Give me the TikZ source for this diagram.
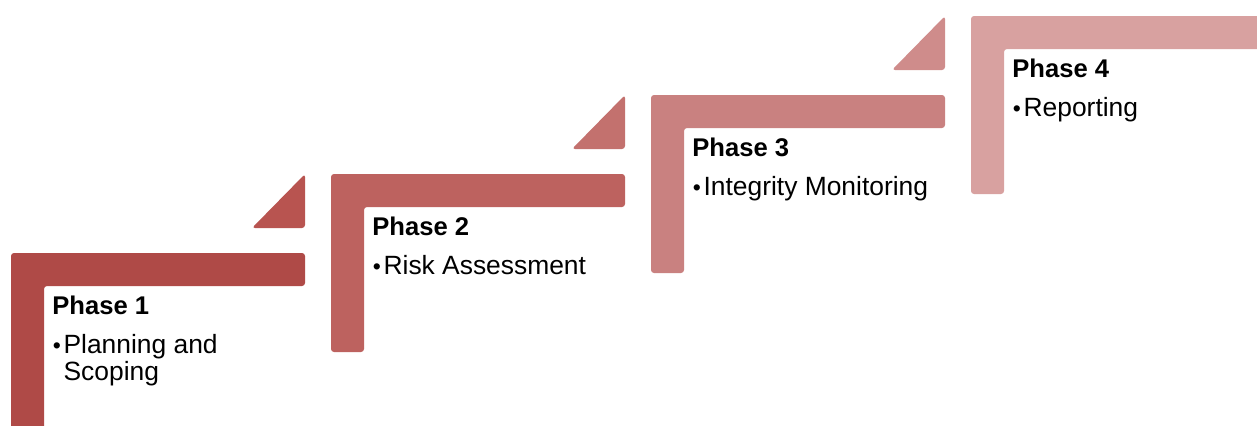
\documentclass[tikz,border=0pt]{standalone}
\usepackage{fontspec}
\setmainfont{Liberation Sans}
\usetikzlibrary{positioning}

\definecolor{phaseA}{RGB}{175,74,71}
\definecolor{phaseAtip}{RGB}{184,84,80}
\definecolor{phaseB}{RGB}{189,98,95}
\definecolor{phaseBtip}{RGB}{195,113,110}
\definecolor{phaseC}{RGB}{201,129,128}
\definecolor{phaseCtip}{RGB}{207,140,139}
\definecolor{phaseD}{RGB}{216,161,160}

\newcommand{\bul}{\makebox[5.6pt][l]{\hspace{0.2pt}\fontsize{11.5}{11.5}\selectfont\textbullet}}
\newcommand{\itemgap}{\hspace*{5.6pt}}

\begin{document}
\begin{tikzpicture}[x=0.5pt, y=0.5pt, node distance=9.6pt,
	stair/.style={rounded corners=1.5pt},
	head/.style={inner sep=0pt, anchor=base west, font=\fontsize{12.8}{13.5}\selectfont\bfseries},
	item/.style={inner sep=0pt, align=left, font=\fontsize{13.2}{13.6}\selectfont}
	]
	\clip (0,0) rectangle (1257,425);

	% top left corner of each step
	\coordinate (c1) at (11,172);
	\coordinate (c2) at (331,251);
	\coordinate (c3) at (651,330);
	\coordinate (c4) at (971,409);

	% the steps
	\fill[stair, phaseA] (c1) -- ++(294,0) -- ++(0,-33) -- ++(-261,0) -- ++(0,-145) -- ++(-33,0) -- cycle;
	\fill[stair, phaseB] (c2) -- ++(294,0) -- ++(0,-33) -- ++(-261,0) -- ++(0,-145) -- ++(-33,0) -- cycle;
	\fill[stair, phaseC] (c3) -- ++(294,0) -- ++(0,-33) -- ++(-261,0) -- ++(0,-145) -- ++(-33,0) -- cycle;
	\fill[stair, phaseD] (c4) -- ++(294,0) -- ++(0,-33) -- ++(-261,0) -- ++(0,-145) -- ++(-33,0) -- cycle;

	% small arrow tips between the steps
	\fill[stair, phaseAtip] ([shift={(241,25)}]c1) -- ++(53,0) -- ++(0,54) -- cycle;
	\fill[stair, phaseBtip] ([shift={(241,25)}]c2) -- ++(53,0) -- ++(0,54) -- cycle;
	\fill[stair, phaseCtip] ([shift={(241,25)}]c3) -- ++(53,0) -- ++(0,54) -- cycle;

	% texts
	\node[head] (t1) at ([xshift=20.5pt,yshift=-30.5pt]c1) {Phase 1};
	\node[item] (i1) [below=of t1.south west, anchor=north west] {\bul Planning and\\\itemgap Scoping};
	\node[head] (t2) at ([xshift=20.5pt,yshift=-30.5pt]c2) {Phase 2};
	\node[item] (i2) [below=of t2.south west, anchor=north west] {\bul Risk Assessment};
	\node[head] (t3) at ([xshift=20.5pt,yshift=-30.5pt]c3) {Phase 3};
	\node[item] (i3) [below=of t3.south west, anchor=north west] {\bul Integrity Monitoring};
	\node[head] (t4) at ([xshift=20.5pt,yshift=-30.5pt]c4) {Phase 4};
	\node[item] (i4) [below=of t4.south west, anchor=north west] {\bul Reporting};
\end{tikzpicture}
\end{document}
